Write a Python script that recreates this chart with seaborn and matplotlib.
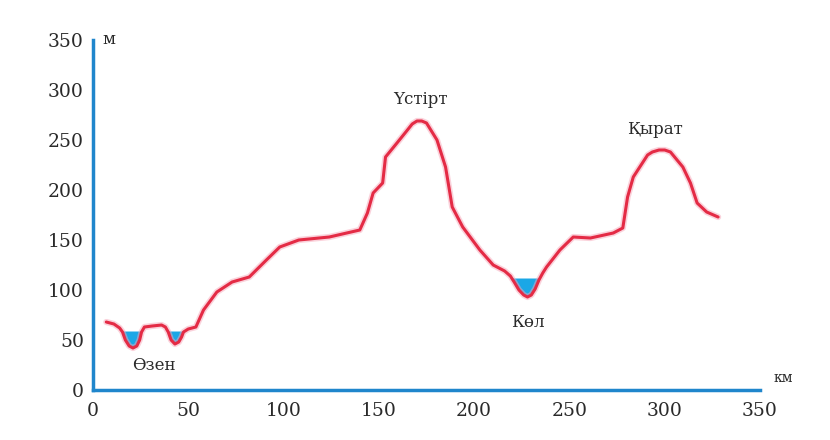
import matplotlib
matplotlib.use("Agg")
import matplotlib.pyplot as plt
import seaborn as sns
import numpy as np

# terrain profile
profile_km = [7, 11, 14, 15.5, 17, 19, 21, 23, 24.5, 25.5,
              27, 31, 36, 38, 39.5, 41, 43, 45, 46.5, 47.5,
              50, 54, 58, 65, 73, 82, 91, 98, 108, 124,
              140, 144, 147, 152, 153.5, 159.5, 165, 167.5, 170, 172.5,
              175, 180.5, 185, 188.5, 194, 203, 210, 216, 219, 221,
              223.5, 226, 228, 230, 232, 234, 236, 238, 245, 252,
              261, 273, 278, 280.5, 283.5, 291, 293.5, 297, 300, 303,
              309.5, 313.5, 317, 322, 328]
profile_m = [68, 66, 62, 58, 50, 44, 42, 44, 50, 58,
             63, 64, 65, 63, 58, 50, 46, 48, 53, 58,
             61, 63, 80, 98, 108, 113, 130, 143, 150, 153,
             160, 177, 197, 207, 233, 247, 260, 266, 269, 269,
             267, 250, 223, 183, 163, 140, 125, 119, 114, 108,
             100, 95, 93, 95, 101, 110, 117, 123, 140, 153,
             152, 157, 162, 193, 213, 235, 238, 240, 240, 238,
             223, 207, 187, 178, 173]

# water bodies: (start km, end km, water level m)
water_start = [13, 38, 217]
water_end = [28, 49, 237]
water_level = [59, 59, 112]

# landform labels
label_text = ["Өзен", "Үстірт", "Көл", "Қырат"]
label_km = [32, 172, 228, 295]
label_m = [25, 290, 68, 261]

ticks = [0, 50, 100, 150, 200, 250, 300, 350]

axis_blue = "#1f86cc"
line_red = "#e42b45"
water_blue = "#1aa7e6"
text_grey = "#2a2a2a"

sns.set_style("white")
plt.rcParams["font.family"] = ["DejaVu Serif", "DejaVu Sans"]

fig = plt.figure(figsize=(8.3, 4.4), dpi=100)
ax = fig.add_axes([0.112, 0.1136, 0.8037, 0.7955])

x = np.array(profile_km)
y = np.array(profile_m)

for s, e, lvl in zip(water_start, water_end, water_level):
    mask = (x >= s) & (x <= e) & (y <= lvl)
    ax.fill_between(x, y, lvl, where=mask, interpolate=True,
                    color=water_blue, linewidth=0, zorder=2)

sns.lineplot(x=x, y=y, sort=False, ax=ax, color="#f7a6b8",
             linewidth=4.5, alpha=0.5, zorder=3)
sns.lineplot(x=x, y=y, sort=False, ax=ax, color=line_red,
             linewidth=2.2, zorder=4)

for t, lx, ly in zip(label_text, label_km, label_m):
    ax.text(lx, ly, t, ha="center", va="center", fontsize=12,
            color=text_grey)

ax.text(5, 350, "м", ha="left", va="center", fontsize=12, color=text_grey)
ax.text(357, 12, "км", ha="left", va="center", fontsize=10, color=text_grey,
        clip_on=False)

ax.set_xlim(0, 350)
ax.set_ylim(0, 350)
ax.set_xticks(ticks)
ax.set_yticks(ticks)
ax.tick_params(axis="both", colors=axis_blue, labelcolor=text_grey,
               labelsize=13.5, length=5, width=1.5, direction="inout")
ax.tick_params(axis="x", pad=6)
ax.tick_params(axis="y", pad=4)

for side in ["top", "right"]:
    ax.spines[side].set_visible(False)
for side in ["left", "bottom"]:
    ax.spines[side].set_color(axis_blue)
    ax.spines[side].set_linewidth(2.5)

ax.set_xlabel("")
ax.set_ylabel("")

fig.savefig("out.png", dpi=100)
